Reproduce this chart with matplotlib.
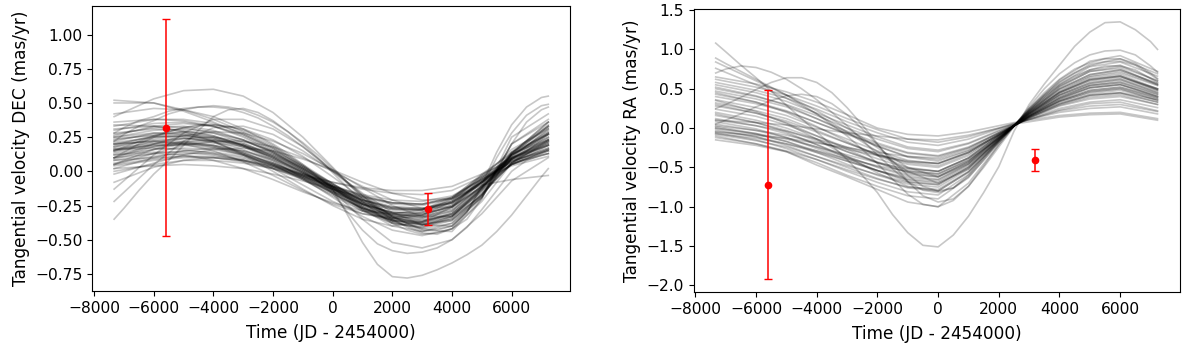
import numpy as np
import matplotlib
matplotlib.use("Agg")
import matplotlib.pyplot as plt
from matplotlib.ticker import MultipleLocator

# sample times of the drawn orbit curves (JD - 2454000)
dec_times = [-7330, -6000, -5000, -4000, -3000, -2000, -1000, 0,
             1000, 2000, 3000, 4000, 5000, 6000, 7230]
ra_times = [-7330, -6000, -5000, -4000, -3000, -2000, -1000, 0,
            1000, 2000, 2500, 3000, 4000, 5000, 6000, 7230]
# finer sampling for the few strongly curved outlier orbits
fine_times = [-7330, -7000, -6500, -6000, -5500, -5000, -4500, -4000, -3500, -3000,
              -2500, -2000, -1500, -1000, -500, 0, 500, 1000, 1500, 2000,
              2500, 3000, 3500, 4000, 4500, 5000, 5500, 6000, 6500, 7000, 7230]

# tangential velocity DEC of the posterior orbits (mas/yr)
dec_curves = [
    [0.16, 0.20, 0.21, 0.19, 0.14, 0.06, -0.04, -0.14, -0.23, -0.28, -0.28, -0.21, -0.04, 0.10, 0.20],
    [0.16, 0.19, 0.19, 0.17, 0.12, 0.04, -0.05, -0.15, -0.24, -0.30, -0.30, -0.24, -0.07, 0.07, 0.17],
    [0.15, 0.22, 0.24, 0.23, 0.18, 0.10, -0.01, -0.13, -0.25, -0.32, -0.33, -0.26, -0.08, 0.09, 0.21],
    [0.20, 0.25, 0.27, 0.25, 0.20, 0.11, 0.00, -0.12, -0.24, -0.31, -0.32, -0.25, -0.07, 0.12, 0.25],
    [0.12, 0.16, 0.17, 0.16, 0.12, 0.06, -0.02, -0.11, -0.19, -0.24, -0.25, -0.20, -0.05, 0.09, 0.19],
    [0.25, 0.30, 0.31, 0.29, 0.23, 0.14, 0.02, -0.11, -0.24, -0.33, -0.35, -0.29, -0.10, 0.12, 0.28],
    [0.08, 0.13, 0.15, 0.14, 0.11, 0.05, -0.03, -0.12, -0.21, -0.27, -0.28, -0.22, -0.06, 0.07, 0.17],
    [0.30, 0.35, 0.36, 0.33, 0.26, 0.15, 0.02, -0.12, -0.27, -0.37, -0.40, -0.33, -0.12, 0.14, 0.33],
    [0.05, 0.09, 0.11, 0.11, 0.09, 0.04, -0.03, -0.11, -0.18, -0.23, -0.24, -0.19, -0.05, 0.05, 0.13],
    [0.33, 0.38, 0.38, 0.35, 0.28, 0.17, 0.03, -0.12, -0.28, -0.40, -0.44, -0.38, -0.17, 0.12, 0.33],
    [0.00, 0.05, 0.08, 0.08, 0.06, 0.02, -0.04, -0.11, -0.17, -0.21, -0.22, -0.18, -0.06, 0.04, 0.11],
    [0.22, 0.28, 0.29, 0.26, 0.19, 0.09, -0.03, -0.16, -0.29, -0.38, -0.41, -0.36, -0.17, 0.06, 0.23],
    [0.18, 0.24, 0.26, 0.24, 0.18, 0.08, -0.05, -0.19, -0.33, -0.43, -0.47, -0.42, -0.22, 0.06, 0.27],
    [0.10, 0.18, 0.22, 0.23, 0.20, 0.13, 0.03, -0.09, -0.22, -0.31, -0.34, -0.29, -0.11, 0.09, 0.23],
    [0.14, 0.20, 0.24, 0.25, 0.22, 0.15, 0.04, -0.09, -0.23, -0.34, -0.38, -0.33, -0.13, 0.13, 0.32],
    [0.28, 0.31, 0.30, 0.26, 0.19, 0.10, -0.01, -0.13, -0.24, -0.30, -0.31, -0.26, -0.11, 0.05, 0.16],
    [0.36, 0.38, 0.37, 0.33, 0.25, 0.14, 0.01, -0.13, -0.26, -0.35, -0.37, -0.31, -0.13, 0.09, 0.25],
    [0.20, 0.22, 0.22, 0.19, 0.13, 0.05, -0.05, -0.16, -0.27, -0.34, -0.36, -0.31, -0.14, 0.05, 0.19],
    [0.40, 0.53, 0.59, 0.60, 0.55, 0.43, 0.25, 0.03, -0.20, -0.36, -0.44, -0.40, -0.19, 0.20, 0.38],
    [0.52, 0.50, 0.45, 0.38, 0.29, 0.18, 0.05, -0.09, -0.22, -0.32, -0.36, -0.32, -0.16, 0.06, 0.21],
    [-0.13, 0.12, 0.28, 0.38, 0.38, 0.31, 0.18, 0.01, -0.17, -0.33, -0.43, -0.44, -0.20, 0.25, 0.42],
    [-0.22, 0.05, 0.22, 0.32, 0.33, 0.27, 0.15, 0.00, -0.16, -0.30, -0.39, -0.40, -0.18, 0.20, 0.36],
    [0.42, 0.46, 0.45, 0.40, 0.31, 0.19, 0.04, -0.11, -0.26, -0.37, -0.42, -0.38, -0.19, 0.13, 0.36],
    [0.50, 0.50, 0.44, 0.36, 0.27, 0.16, 0.03, -0.11, -0.25, -0.35, -0.39, -0.35, -0.17, 0.09, 0.28],
    [0.02, 0.10, 0.15, 0.17, 0.15, 0.09, 0.00, -0.14, -0.35, -0.52, -0.56, -0.50, -0.31, -0.07, 0.10],
    [-0.08, 0.03, 0.08, 0.10, 0.08, 0.03, -0.04, -0.12, -0.20, -0.26, -0.27, -0.23, -0.09, 0.05, 0.15],
    [0.02, 0.04, 0.05, 0.04, 0.02, -0.02, -0.07, -0.13, -0.19, -0.23, -0.24, -0.20, -0.10, -0.06, -0.03],
    [0.08, 0.10, 0.11, 0.10, 0.07, 0.02, -0.05, -0.13, -0.21, -0.26, -0.27, -0.22, -0.08, 0.05, 0.15],
    [0.26, 0.33, 0.35, 0.33, 0.27, 0.17, 0.04, -0.10, -0.24, -0.34, -0.37, -0.32, -0.15, 0.11, 0.30],
    [0.16, 0.17, 0.16, 0.13, 0.08, 0.02, -0.06, -0.15, -0.24, -0.30, -0.31, -0.26, -0.11, 0.05, 0.16],
    [0.31, 0.33, 0.32, 0.28, 0.21, 0.11, -0.01, -0.14, -0.27, -0.36, -0.39, -0.35, -0.17, 0.06, 0.22],
    [0.15, 0.26, 0.32, 0.34, 0.31, 0.23, 0.11, -0.04, -0.20, -0.33, -0.39, -0.36, -0.19, 0.13, 0.36],
    [0.21, 0.25, 0.26, 0.24, 0.19, 0.12, 0.02, -0.10, -0.21, -0.27, -0.28, -0.23, -0.08, 0.08, 0.19],
    [0.12, 0.14, 0.14, 0.12, 0.08, 0.03, -0.03, -0.08, -0.12, -0.14, -0.14, -0.11, -0.02, 0.08, 0.15],
    [0.04, 0.08, 0.10, 0.10, 0.08, 0.04, -0.02, -0.08, -0.13, -0.16, -0.17, -0.14, -0.04, 0.06, 0.13],
    [0.25, 0.28, 0.27, 0.22, 0.13, 0.02, -0.10, -0.22, -0.31, -0.35, -0.32, -0.22, -0.03, 0.14, 0.27],
    [0.20, 0.22, 0.20, 0.15, 0.07, -0.03, -0.14, -0.24, -0.31, -0.34, -0.30, -0.20, -0.02, 0.13, 0.23],
    [0.34, 0.33, 0.29, 0.22, 0.12, 0.00, -0.13, -0.25, -0.35, -0.40, -0.37, -0.26, -0.05, 0.16, 0.31],
    [0.10, 0.13, 0.12, 0.08, 0.02, -0.06, -0.15, -0.23, -0.29, -0.31, -0.28, -0.19, -0.03, 0.10, 0.19],
    [0.05, 0.13, 0.19, 0.22, 0.22, 0.18, 0.10, 0.00, -0.11, -0.21, -0.27, -0.26, -0.12, 0.11, 0.27],
    [0.10, 0.20, 0.26, 0.29, 0.28, 0.22, 0.13, 0.01, -0.12, -0.25, -0.33, -0.33, -0.18, 0.10, 0.31],
    [-0.02, 0.06, 0.12, 0.16, 0.17, 0.15, 0.09, 0.01, -0.08, -0.16, -0.21, -0.20, -0.08, 0.10, 0.23],
    [0.18, 0.23, 0.24, 0.22, 0.16, 0.07, -0.04, -0.16, -0.27, -0.33, -0.34, -0.27, -0.08, 0.12, 0.27],
    [0.13, 0.18, 0.20, 0.19, 0.15, 0.08, -0.01, -0.11, -0.21, -0.27, -0.28, -0.23, -0.07, 0.10, 0.22],
    [0.23, 0.27, 0.28, 0.25, 0.19, 0.10, -0.02, -0.15, -0.28, -0.36, -0.38, -0.31, -0.12, 0.12, 0.29],
    [0.17, 0.21, 0.21, 0.18, 0.12, 0.04, -0.06, -0.17, -0.27, -0.32, -0.32, -0.25, -0.08, 0.09, 0.22],
    [0.09, 0.16, 0.20, 0.21, 0.18, 0.11, 0.01, -0.11, -0.23, -0.31, -0.33, -0.28, -0.11, 0.12, 0.28],
    [0.27, 0.32, 0.33, 0.30, 0.23, 0.13, 0.00, -0.14, -0.28, -0.38, -0.41, -0.34, -0.14, 0.13, 0.33],
    [0.15, 0.19, 0.20, 0.18, 0.13, 0.06, -0.03, -0.13, -0.22, -0.28, -0.29, -0.23, -0.08, 0.08, 0.20],
    [0.19, 0.26, 0.29, 0.28, 0.23, 0.14, 0.02, -0.12, -0.26, -0.36, -0.39, -0.33, -0.13, 0.14, 0.34],
    [0.06, 0.11, 0.13, 0.13, 0.10, 0.05, -0.02, -0.10, -0.18, -0.23, -0.24, -0.19, -0.06, 0.07, 0.16],
    [0.24, 0.26, 0.25, 0.21, 0.14, 0.05, -0.06, -0.18, -0.29, -0.36, -0.37, -0.30, -0.12, 0.09, 0.24],
]
dec_fine_curves = [
    [0.10, 0.14, 0.20, 0.25, 0.29, 0.32, 0.34, 0.34, 0.33, 0.30, 0.26, 0.20, 0.13, 0.05, -0.04, -0.13,
     -0.32, -0.52, -0.68, -0.77, -0.78, -0.76, -0.72, -0.67, -0.61, -0.54, -0.44, -0.32, -0.18, -0.04, 0.02],
    [0.05, 0.08, 0.12, 0.16, 0.19, 0.21, 0.22, 0.22, 0.21, 0.19, 0.16, 0.12, 0.07, 0.01, -0.07, -0.16,
     -0.30, -0.43, -0.53, -0.58, -0.60, -0.59, -0.56, -0.50, -0.41, -0.28, -0.14, 0.00, 0.08, 0.12, 0.13],
    [-0.35, -0.27, -0.14, -0.02, 0.08, 0.19, 0.30, 0.40, 0.45, 0.46, 0.43, 0.37, 0.29, 0.20, 0.10, -0.01,
     -0.12, -0.22, -0.31, -0.38, -0.43, -0.46, -0.45, -0.42, -0.35, -0.20, 0.00, 0.20, 0.36, 0.45, 0.47],
    [0.28, 0.32, 0.37, 0.40, 0.44, 0.46, 0.47, 0.47, 0.46, 0.43, 0.39, 0.33, 0.26, 0.18, 0.09, 0.00,
     -0.09, -0.18, -0.26, -0.33, -0.38, -0.42, -0.43, -0.40, -0.30, -0.12, 0.10, 0.28, 0.41, 0.48, 0.49],
    [0.22, 0.27, 0.33, 0.37, 0.42, 0.45, 0.47, 0.48, 0.47, 0.45, 0.41, 0.36, 0.29, 0.21, 0.12, 0.02,
     -0.08, -0.18, -0.27, -0.35, -0.41, -0.45, -0.46, -0.42, -0.30, -0.10, 0.14, 0.34, 0.47, 0.54, 0.55],
]

# tangential velocity RA of the posterior orbits (mas/yr)
ra_curves = [
    [0.65, 0.56, 0.46, 0.33, 0.17, 0.00, -0.08, -0.10, -0.05, 0.03, 0.07, 0.10, 0.16, 0.19, 0.20, 0.12],
    [0.62, 0.52, 0.42, 0.28, 0.12, -0.02, -0.14, -0.18, -0.11, 0.00, 0.06, 0.11, 0.20, 0.25, 0.27, 0.18],
    [0.58, 0.48, 0.38, 0.24, 0.08, -0.06, -0.18, -0.22, -0.14, -0.01, 0.05, 0.11, 0.22, 0.28, 0.30, 0.21],
    [0.55, 0.45, 0.34, 0.19, 0.04, -0.11, -0.24, -0.28, -0.19, -0.03, 0.04, 0.12, 0.25, 0.33, 0.36, 0.26],
    [0.50, 0.40, 0.30, 0.16, 0.00, -0.14, -0.26, -0.30, -0.20, -0.04, 0.04, 0.13, 0.28, 0.37, 0.40, 0.30],
    [0.47, 0.37, 0.27, 0.12, -0.04, -0.19, -0.31, -0.35, -0.24, -0.06, 0.03, 0.13, 0.30, 0.41, 0.44, 0.33],
    [0.43, 0.33, 0.22, 0.07, -0.08, -0.23, -0.36, -0.40, -0.28, -0.07, 0.03, 0.14, 0.33, 0.44, 0.48, 0.36],
    [0.40, 0.31, 0.21, 0.07, -0.07, -0.21, -0.32, -0.36, -0.25, -0.06, 0.03, 0.14, 0.31, 0.42, 0.45, 0.36],
    [0.36, 0.26, 0.16, 0.01, -0.14, -0.29, -0.41, -0.45, -0.31, -0.08, 0.03, 0.15, 0.35, 0.48, 0.52, 0.40],
    [0.32, 0.22, 0.12, -0.03, -0.19, -0.34, -0.46, -0.50, -0.35, -0.09, 0.03, 0.16, 0.37, 0.51, 0.55, 0.42],
    [0.28, 0.19, 0.09, -0.05, -0.19, -0.33, -0.44, -0.48, -0.33, -0.09, 0.03, 0.15, 0.35, 0.48, 0.52, 0.38],
    [0.24, 0.15, 0.04, -0.10, -0.25, -0.39, -0.51, -0.55, -0.38, -0.10, 0.03, 0.17, 0.41, 0.55, 0.60, 0.46],
    [0.20, 0.10, 0.00, -0.14, -0.30, -0.44, -0.56, -0.60, -0.42, -0.11, 0.03, 0.18, 0.42, 0.57, 0.62, 0.48],
    [0.16, 0.07, -0.03, -0.16, -0.30, -0.43, -0.54, -0.58, -0.41, -0.12, 0.02, 0.16, 0.39, 0.54, 0.58, 0.43],
    [0.12, 0.03, -0.07, -0.21, -0.36, -0.50, -0.61, -0.65, -0.45, -0.13, 0.03, 0.19, 0.45, 0.61, 0.66, 0.50],
    [0.08, -0.01, -0.12, -0.26, -0.40, -0.54, -0.66, -0.70, -0.49, -0.14, 0.03, 0.20, 0.47, 0.65, 0.70, 0.54],
    [0.05, -0.03, -0.12, -0.24, -0.37, -0.49, -0.59, -0.62, -0.43, -0.12, 0.03, 0.16, 0.38, 0.52, 0.56, 0.40],
    [0.02, -0.07, -0.17, -0.31, -0.46, -0.60, -0.71, -0.75, -0.52, -0.15, 0.03, 0.21, 0.50, 0.68, 0.74, 0.57],
    [0.00, -0.07, -0.14, -0.24, -0.34, -0.44, -0.52, -0.55, -0.38, -0.10, 0.03, 0.15, 0.34, 0.46, 0.50, 0.35],
    [-0.02, -0.11, -0.22, -0.36, -0.50, -0.64, -0.76, -0.80, -0.56, -0.16, 0.03, 0.22, 0.53, 0.72, 0.78, 0.60],
    [-0.04, -0.11, -0.20, -0.31, -0.42, -0.54, -0.63, -0.66, -0.46, -0.13, 0.03, 0.18, 0.42, 0.57, 0.62, 0.45],
    [-0.06, -0.15, -0.26, -0.40, -0.55, -0.69, -0.81, -0.85, -0.59, -0.17, 0.03, 0.23, 0.56, 0.78, 0.84, 0.66],
    [-0.08, -0.16, -0.24, -0.36, -0.48, -0.59, -0.69, -0.72, -0.50, -0.14, 0.03, 0.19, 0.46, 0.63, 0.68, 0.50],
    [-0.10, -0.20, -0.30, -0.44, -0.60, -0.74, -0.86, -0.90, -0.63, -0.18, 0.03, 0.24, 0.59, 0.81, 0.88, 0.69],
    [-0.12, -0.20, -0.29, -0.40, -0.53, -0.65, -0.75, -0.78, -0.55, -0.16, 0.03, 0.21, 0.50, 0.68, 0.74, 0.56],
    [-0.15, -0.22, -0.30, -0.47, -0.62, -0.78, -0.94, -1.00, -0.70, -0.21, 0.02, 0.25, 0.61, 0.85, 0.92, 0.72],
    [0.03, -0.03, -0.09, -0.18, -0.27, -0.35, -0.43, -0.45, -0.31, -0.08, 0.03, 0.13, 0.29, 0.39, 0.42, 0.30],
    [-0.05, -0.09, -0.13, -0.19, -0.25, -0.31, -0.36, -0.38, -0.26, -0.06, 0.04, 0.11, 0.23, 0.31, 0.33, 0.22],
    [0.10, 0.07, 0.04, -0.01, -0.06, -0.10, -0.14, -0.15, -0.09, 0.00, 0.05, 0.08, 0.14, 0.17, 0.18, 0.10],
    [0.84, 0.60, 0.42, 0.22, 0.00, -0.25, -0.50, -0.62, -0.45, -0.12, 0.03, 0.18, 0.45, 0.62, 0.66, 0.48],
    [0.76, 0.55, 0.38, 0.18, -0.05, -0.30, -0.55, -0.70, -0.52, -0.14, 0.03, 0.20, 0.52, 0.72, 0.76, 0.55],
    [0.30, 0.19, 0.07, -0.10, -0.27, -0.44, -0.57, -0.62, -0.43, -0.12, 0.03, 0.18, 0.43, 0.59, 0.64, 0.50],
    [0.45, 0.33, 0.20, 0.02, -0.17, -0.35, -0.50, -0.55, -0.38, -0.10, 0.03, 0.17, 0.39, 0.54, 0.58, 0.44],
    [0.10, 0.03, -0.04, -0.14, -0.24, -0.34, -0.42, -0.45, -0.31, -0.08, 0.03, 0.14, 0.31, 0.42, 0.45, 0.33],
    [0.00, -0.08, -0.17, -0.29, -0.42, -0.54, -0.65, -0.68, -0.47, -0.15, 0.03, 0.19, 0.45, 0.61, 0.66, 0.49],
    [0.18, 0.07, -0.05, -0.21, -0.38, -0.54, -0.68, -0.72, -0.50, -0.16, 0.03, 0.20, 0.49, 0.66, 0.72, 0.55],
    [0.52, 0.41, 0.29, 0.12, -0.06, -0.23, -0.37, -0.42, -0.29, -0.09, 0.03, 0.15, 0.34, 0.46, 0.50, 0.38],
    [-0.07, -0.13, -0.20, -0.29, -0.39, -0.48, -0.55, -0.58, -0.40, -0.13, 0.02, 0.15, 0.37, 0.51, 0.55, 0.40],
    [0.35, 0.21, 0.06, -0.14, -0.36, -0.57, -0.74, -0.80, -0.56, -0.18, 0.03, 0.22, 0.54, 0.74, 0.80, 0.60],
]
ra_fine_curves = [
    [1.08, 0.97, 0.80, 0.64, 0.47, 0.29, 0.12, -0.05, -0.22, -0.40, -0.60, -0.82, -1.10, -1.33, -1.49, -1.51,
     -1.36, -1.12, -0.82, -0.49, -0.04, 0.30, 0.56, 0.80, 1.04, 1.22, 1.34, 1.35, 1.25, 1.10, 1.00],
    [0.89, 0.82, 0.72, 0.62, 0.52, 0.42, 0.30, 0.18, 0.04, -0.10, -0.27, -0.45, -0.65, -0.84, -0.97, -1.00,
     -0.92, -0.74, -0.50, -0.24, 0.02, 0.27, 0.50, 0.69, 0.83, 0.93, 0.98, 0.99, 0.93, 0.79, 0.71],
    [0.70, 0.75, 0.79, 0.77, 0.71, 0.62, 0.50, 0.36, 0.20, 0.03, -0.15, -0.34, -0.52, -0.68, -0.79, -0.82,
     -0.76, -0.60, -0.38, -0.15, 0.03, 0.23, 0.42, 0.58, 0.70, 0.79, 0.84, 0.85, 0.80, 0.68, 0.62],
    [0.25, 0.30, 0.39, 0.49, 0.58, 0.64, 0.64, 0.58, 0.45, 0.26, 0.04, -0.20, -0.45, -0.68, -0.86, -0.94,
     -0.90, -0.74, -0.48, -0.21, 0.03, 0.25, 0.45, 0.62, 0.75, 0.83, 0.88, 0.88, 0.82, 0.70, 0.63],
    [0.05, 0.10, 0.18, 0.27, 0.35, 0.41, 0.43, 0.40, 0.31, 0.17, -0.01, -0.21, -0.42, -0.60, -0.74, -0.80,
     -0.76, -0.62, -0.41, -0.18, 0.03, 0.22, 0.40, 0.55, 0.66, 0.74, 0.79, 0.79, 0.74, 0.63, 0.58],
]

# measured tangential velocities (Hipparcos / Gaia epochs)
obs_times = [-5590, 3200]
obs_dec = [0.32, -0.275]
obs_dec_err = [0.795, 0.12]
obs_ra = [-0.72, -0.40]
obs_ra_err = [1.20, 0.14]

plt.rcParams["font.size"] = 11.2

fig = plt.figure(figsize=(12, 3.46), dpi=100)
ax1 = fig.add_axes([0.077, 0.159, 0.398, 0.824])
ax2 = fig.add_axes([0.578, 0.156, 0.405, 0.818])

panels = [
    (ax1, dec_times, dec_curves, dec_fine_curves, obs_dec, obs_dec_err,
     "Tangential velocity DEC (mas/yr)", 0.25),
    (ax2, ra_times, ra_curves, ra_fine_curves, obs_ra, obs_ra_err,
     "Tangential velocity RA (mas/yr)", 0.5),
]

for ax, times, curves, fine_curves, obs, obs_err, ylabel, ystep in panels:
    for curve in curves:
        ax.plot(times, curve, color="black", alpha=0.22, linewidth=1.2)
    for curve in fine_curves:
        ax.plot(fine_times, curve, color="black", alpha=0.22, linewidth=1.2)
    ax.errorbar(obs_times, obs, yerr=obs_err, fmt="o", color="red",
                markersize=4.5, capsize=3, elinewidth=1.1, capthick=1.0)
    ax.xaxis.set_major_locator(MultipleLocator(2000))
    ax.yaxis.set_major_locator(MultipleLocator(ystep))
    ax.set_xlabel("Time (JD - 2454000)", fontsize=12.2, labelpad=6)
    ax.set_ylabel(ylabel, fontsize=12.2)

fig.savefig("out.png", dpi=100)
